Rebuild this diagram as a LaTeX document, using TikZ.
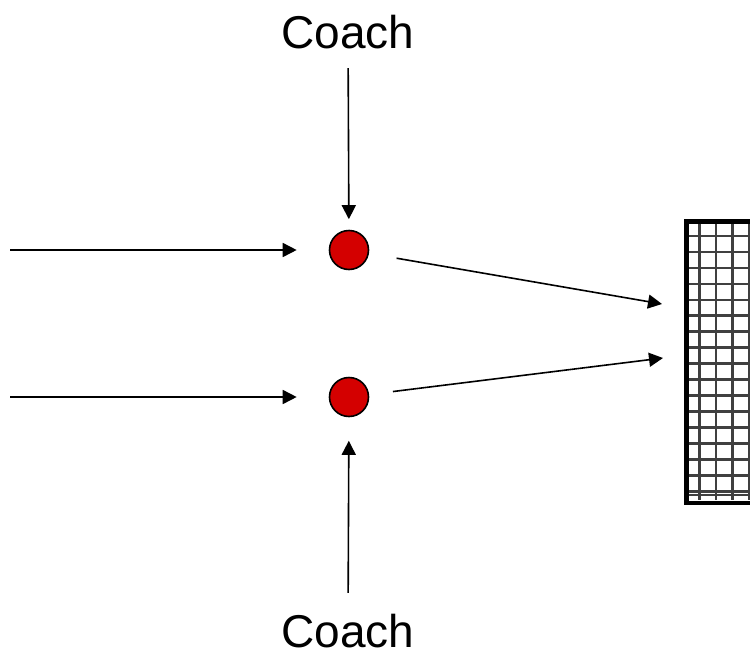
\documentclass[tikz,border=0pt]{standalone}
\usepackage{fontspec}
\setmainfont{Liberation Sans}
\usetikzlibrary{arrows.meta}
\definecolor{playerred}{RGB}{212,0,0}

\begin{document}
\begin{tikzpicture}[x=1pt, y=-1pt,
    pass/.style={-{Triangle[length=14pt, width=14pt]}, line width=1.6pt},
    player/.style={circle, draw, line width=1.6pt, fill=playerred, minimum size=39pt, inner sep=0pt},
    coach/.style={inner sep=0pt, font=\fontsize{46}{50}\selectfont},
    net/.style={black!75, line width=2.6pt}]
    \useasboundingbox (0,0) rectangle (750,656);

    % Players
    \node[player] (p1) at (349,250) {};
    \node[player] (p2) at (349,397) {};

    % Coaches
    \node[coach] (c1) at (348,32) {Coach};
    \node[coach] (c2) at (348,631) {Coach};

    % Goal with net
    \begin{scope}
        \clip (684,219) rectangle (750,500);
        \foreach \i in {0,...,3}
            \draw[net] (699.3+16.5*\i,219) -- (699.3+16.5*\i,500);
        \foreach \j in {0,...,16}
            \draw[net] (684,236+15.95*\j) -- (752,236+15.95*\j);
        \draw[net, line width=1.8pt] (684,495.3) -- (752,495.3);
    \end{scope}
    \node[draw, line width=4.8pt, minimum width=90pt, minimum height=281.5pt, anchor=north west, inner sep=0pt] (goal) at (684,219) {};

    % Incoming passes
    \coordinate (in1) at (10,250);
    \coordinate (in2) at (10,397);
    \draw[pass, shorten >=32pt] (in1) -- (p1);
    \draw[pass, shorten >=32pt] (in2) -- (p2);

    % Coach instructions
    \draw[pass, shorten <=19pt, shorten >=10.5pt] (c1) -- (p1);
    \draw[pass, shorten <=21pt, shorten >=23.5pt] (c2) -- (p2);

    % Shots on goal
    \coordinate (aim1) at (662,304);
    \coordinate (aim2) at (663,358);
    \draw[pass, shorten <=28pt] (p1) -- (aim1);
    \draw[pass, shorten <=24pt] (p2) -- (aim2);
\end{tikzpicture}
\end{document}
